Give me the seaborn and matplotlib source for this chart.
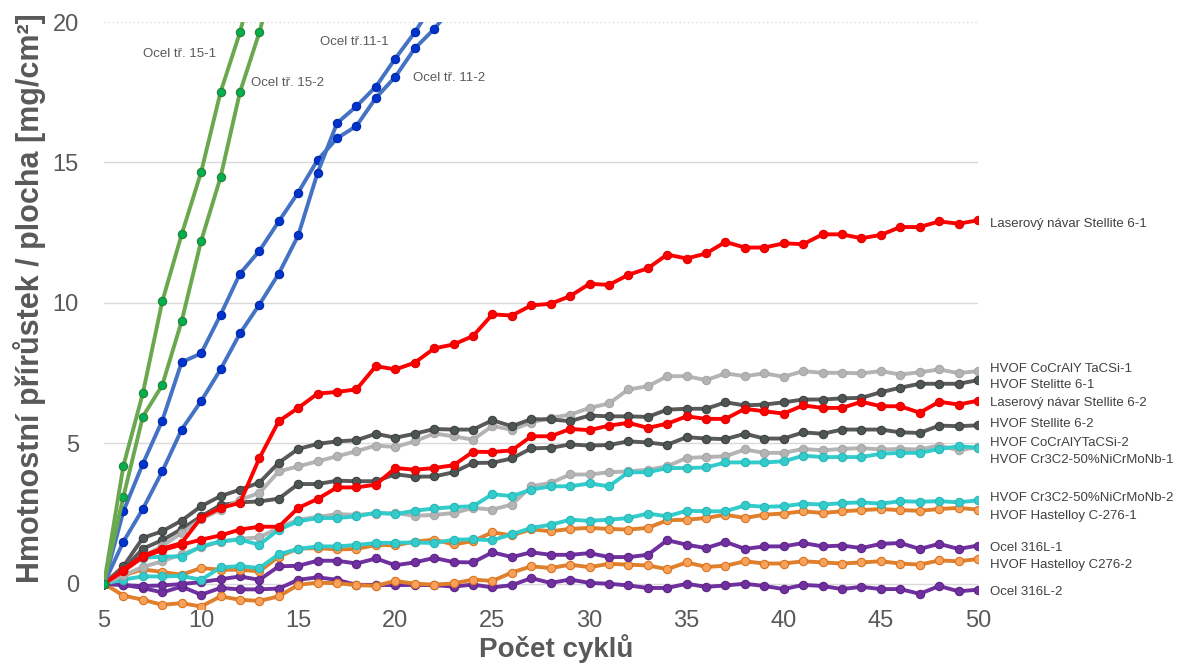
import matplotlib
matplotlib.use("Agg")
import matplotlib.pyplot as plt
import seaborn as sns
import pandas as pd

# ---- data: mass gain per area [mg/cm2] after each cycle (cycles start at 5) ----
ocel15_1 = [0, 4.2, 6.78, 10.05, 12.44, 14.65, 17.5, 19.63, 22.3]
ocel15_2 = [0, 3.1, 5.95, 7.07, 9.35, 12.2, 14.47, 17.5, 19.63, 22.2]
ocel11_1 = [0, 1.5, 2.66, 4.0, 5.49, 6.5, 7.63, 8.91, 9.94, 11.04, 12.4, 14.64,
            16.4, 17.0, 17.7, 18.7, 19.63, 20.7]
ocel11_2 = [0, 2.58, 4.27, 5.81, 7.89, 8.2, 9.57, 11.04, 11.85, 12.9, 13.93, 15.09,
            15.86, 16.3, 17.3, 18.05, 19.06, 19.75, 20.6]

laser_61 = [0, 0.5, 1.0, 1.25, 1.45, 2.35, 2.7, 2.88, 4.47, 5.79,
            6.26, 6.77, 6.83, 6.92, 7.75, 7.63, 7.87, 8.38, 8.52, 8.82,
            9.59, 9.55, 9.91, 9.97, 10.24, 10.68, 10.64, 11.0, 11.23, 11.72,
            11.58, 11.76, 12.17, 11.97, 11.97, 12.12, 12.09, 12.44, 12.44, 12.3,
            12.42, 12.7, 12.7, 12.9, 12.82, 12.94]
laser_62 = [0, 0.45, 0.95, 1.2, 1.39, 1.57, 1.72, 1.93, 2.03, 2.03,
            2.7, 3.02, 3.43, 3.43, 3.53, 4.12, 4.06, 4.12, 4.22, 4.7,
            4.69, 4.75, 5.25, 5.25, 5.51, 5.47, 5.63, 5.73, 5.55, 5.7,
            5.96, 5.87, 5.87, 6.23, 6.14, 6.06, 6.35, 6.26, 6.26, 6.48,
            6.32, 6.32, 6.09, 6.48, 6.38, 6.52]
stellite_61 = [0, 0.62, 1.63, 1.87, 2.25, 2.76, 3.12, 3.35, 3.6, 4.31,
               4.8, 4.98, 5.07, 5.11, 5.34, 5.2, 5.34, 5.51, 5.49, 5.49,
               5.82, 5.61, 5.86, 5.85, 5.79, 5.99, 5.96, 5.96, 5.94, 6.2,
               6.23, 6.23, 6.46, 6.35, 6.38, 6.46, 6.56, 6.56, 6.6, 6.62,
               6.82, 6.98, 7.12, 7.12, 7.12, 7.25]
stellite_62 = [0, 0.5, 1.25, 1.55, 1.95, 2.4, 2.8, 2.9, 2.93, 3.03,
               3.55, 3.55, 3.67, 3.65, 3.65, 3.9, 3.81, 3.82, 3.97, 4.3,
               4.31, 4.46, 4.82, 4.84, 4.96, 4.92, 4.94, 5.07, 5.03, 4.95,
               5.22, 5.17, 5.15, 5.34, 5.17, 5.17, 5.39, 5.34, 5.49, 5.49,
               5.49, 5.39, 5.37, 5.63, 5.61, 5.64]
cocraly_1 = [0, 0.45, 0.95, 1.35, 1.8, 2.3, 2.64, 2.99, 3.23, 4.0,
             4.18, 4.36, 4.54, 4.72, 4.92, 4.87, 5.07, 5.35, 5.25, 5.13,
             5.62, 5.48, 5.74, 5.91, 6.02, 6.26, 6.42, 6.92, 7.03, 7.39,
             7.39, 7.25, 7.49, 7.39, 7.49, 7.37, 7.57, 7.51, 7.51, 7.49,
             7.57, 7.45, 7.53, 7.63, 7.5, 7.57]
cocraly_2 = [0, 0.3, 0.6, 0.8, 1.05, 1.3, 1.5, 1.6, 1.65, 2.0,
             2.28, 2.38, 2.48, 2.45, 2.5, 2.52, 2.42, 2.45, 2.52, 2.7,
             2.64, 2.82, 3.47, 3.59, 3.89, 3.89, 3.97, 4.0, 4.06, 4.18,
             4.48, 4.51, 4.54, 4.78, 4.66, 4.66, 4.8, 4.75, 4.8, 4.83,
             4.78, 4.8, 4.78, 4.92, 4.75, 4.86]
cr3c2_1 = [0, 0.5, 0.92, 0.97, 0.97, 1.33, 1.51, 1.57, 1.39, 1.93,
           2.22, 2.34, 2.34, 2.4, 2.53, 2.48, 2.6, 2.68, 2.73, 2.76,
           3.19, 3.12, 3.35, 3.47, 3.47, 3.57, 3.47, 3.97, 3.97, 4.12,
           4.12, 4.14, 4.32, 4.32, 4.32, 4.36, 4.56, 4.51, 4.51, 4.51,
           4.63, 4.66, 4.66, 4.8, 4.89, 4.85]
cr3c2_2 = [0, 0.15, 0.26, 0.26, 0.28, 0.14, 0.58, 0.63, 0.56, 1.05,
           1.24, 1.33, 1.33, 1.38, 1.45, 1.46, 1.47, 1.45, 1.57, 1.58,
           1.55, 1.76, 1.99, 2.1, 2.28, 2.24, 2.28, 2.34, 2.5, 2.4,
           2.6, 2.58, 2.58, 2.79, 2.74, 2.76, 2.85, 2.82, 2.87, 2.9,
           2.85, 2.94, 2.92, 2.94, 2.9, 2.97]
hastelloy_1 = [0, 0.3, 0.51, 0.42, 0.32, 0.56, 0.5, 0.5, 0.44, 0.97,
               1.25, 1.27, 1.22, 1.24, 1.38, 1.37, 1.5, 1.57, 1.4, 1.52,
               1.83, 1.72, 1.94, 1.87, 1.95, 1.99, 1.95, 1.93, 1.99, 2.26,
               2.28, 2.34, 2.46, 2.34, 2.46, 2.5, 2.58, 2.52, 2.58, 2.62,
               2.66, 2.62, 2.6, 2.66, 2.7, 2.64]
hastelloy_2 = [0, -0.42, -0.57, -0.75, -0.69, -0.81, -0.45, -0.57, -0.61, -0.45,
               -0.04, 0.04, 0.02, -0.05, -0.07, 0.1, 0.0, -0.03, 0.01, 0.15,
               0.1, 0.4, 0.62, 0.56, 0.68, 0.59, 0.71, 0.68, 0.65, 0.52,
               0.76, 0.6, 0.64, 0.8, 0.72, 0.72, 0.8, 0.76, 0.72, 0.76,
               0.8, 0.72, 0.68, 0.83, 0.8, 0.88]
ocel316_1 = [0, -0.05, -0.08, -0.06, -0.01, 0.06, 0.16, 0.26, 0.14, 0.62,
             0.64, 0.82, 0.82, 0.72, 0.9, 0.66, 0.76, 0.92, 0.77, 0.76,
             1.12, 0.95, 1.12, 1.03, 1.03, 1.09, 0.95, 0.95, 1.03, 1.55,
             1.39, 1.27, 1.49, 1.24, 1.33, 1.33, 1.45, 1.33, 1.36, 1.27,
             1.42, 1.45, 1.24, 1.42, 1.24, 1.36]
ocel316_2 = [0, -0.04, -0.15, -0.31, -0.1, -0.39, -0.15, -0.2, -0.2, -0.17,
             0.14, 0.23, 0.14, -0.04, -0.04, -0.05, -0.04, -0.05, -0.1, -0.03,
             -0.13, -0.05, 0.2, 0.03, 0.15, 0.03, 0.0, -0.06, -0.15, -0.15,
             0.0, -0.11, -0.06, 0.0, -0.08, -0.19, -0.04, -0.08, -0.19, -0.11,
             -0.19, -0.19, -0.36, -0.08, -0.27, -0.21]

x_ticks = [5, 10, 15, 20, 25, 30, 35, 40, 45, 50]
y_ticks = [0, 5, 10, 15, 20]

# series: values, line colour, marker face, marker edge, end label, label height
series = [
    (ocel316_2, "#7030A0", "#7030A0", "#5B2585", "Ocel 316L-2", -0.31),
    (hastelloy_2, "#E07F2C", "#F8A15A", "#D9731E", "HVOF Hastelloy C276-2", 0.68),
    (ocel316_1, "#7030A0", "#7030A0", "#5B2585", "Ocel 316L-1", 1.29),
    (hastelloy_1, "#E07F2C", "#F8A15A", "#D9731E", "HVOF Hastelloy C-276-1", 2.43),
    (cr3c2_2, "#33CCCC", "#33CCCC", "#2BB5B5", "HVOF Cr3C2-50%NiCrMoNb-2", 3.04),
    (cocraly_2, "#B4B4B4", "#B4B4B4", "#A6A6A6", "HVOF CoCrAlYTaCSi-2", 5.00),
    (stellite_62, "#595959", "#4D5656", "#404040", "HVOF Stellite 6-2", 5.68),
    (cocraly_1, "#B4B4B4", "#B4B4B4", "#A6A6A6", "HVOF CoCrAlY TaCSi-1", 7.64),
    (stellite_61, "#595959", "#4D5656", "#404040", "HVOF Stelitte 6-1", 7.07),
    (cr3c2_1, "#33CCCC", "#33CCCC", "#2BB5B5", "HVOF Cr3C2-50%NiCrMoNb-1", 4.39),
    (laser_62, "#FF0000", "#FF0000", "#E00000", "Laserový návar Stellite 6-2", 6.42),
    (laser_61, "#FF0000", "#FF0000", "#E00000", "Laserový návar Stellite 6-1", 12.81),
    (ocel11_2, "#4472C4", "#0033CC", "#0029A8", None, None),
    (ocel11_1, "#4472C4", "#0033CC", "#0029A8", None, None),
    (ocel15_2, "#6AA84F", "#00B050", "#2E7D32", None, None),
    (ocel15_1, "#6AA84F", "#00B050", "#2E7D32", None, None),
]

steel_labels = [
    ("Ocel tř. 15-1", 7.0, 18.87),
    ("Ocel tř. 15-2", 12.57, 17.83),
    ("Ocel tř.11-1", 16.12, 19.29),
    ("Ocel tř. 11-2", 20.91, 18.01),
]

sns.set_style("white")
plt.rcParams["font.family"] = ["Liberation Sans", "DejaVu Sans"]
title_font = ["Liberation Sans Narrow", "Liberation Sans", "DejaVu Sans"]

fig = plt.figure(figsize=(11.83, 6.63), dpi=100)
ax = fig.add_axes([0.0879, 0.0814, 0.7388, 0.8854])

for vals, lc, mfc, mec, label, ly in series:
    df = pd.DataFrame({"cyklus": list(range(5, 5 + len(vals))), "hodnota": vals})
    sns.lineplot(data=df, x="cyklus", y="hodnota", ax=ax, color=lc, linewidth=2.8,
                 marker="o", markersize=6, markerfacecolor=mfc, markeredgecolor=mec,
                 markeredgewidth=0.8, legend=False, zorder=3)
    if label is not None:
        ax.text(50.6, ly, label, fontsize=9.5, color="#404040",
                va="center", ha="left", clip_on=False)

for text, x, y in steel_labels:
    ax.text(x, y, text, fontsize=9.5, color="#595959", va="center", ha="left")

ax.set_xlim(5, 50)
ax.set_ylim(-0.9, 20)
ax.set_xticks(x_ticks)
ax.set_yticks(y_ticks)
ax.tick_params(axis="both", length=0, labelsize=17, labelcolor="#595959")
ax.tick_params(axis="y", pad=18)
ax.tick_params(axis="x", pad=1)

for v in y_ticks[:-1]:
    ax.axhline(v, color="#D9D9D9", linewidth=1.0, zorder=1)
ax.axhline(20, color="#D9D9D9", linewidth=1.0, linestyle=(0, (1, 2)), zorder=1)

for sp in ax.spines.values():
    sp.set_visible(False)

ax.set_xlabel("")
ax.set_ylabel("")
fig.text(30 / 1183, 1 - 298 / 663, "Hmotnostní přírůstek / plocha [mg/cm²]",
         rotation=90, fontsize=22, fontweight="bold", color="#595959",
         family=title_font, ha="center", va="center")
fig.text(556 / 1183, 1 - 657 / 663, "Počet cyklů", fontsize=20, fontweight="bold",
         color="#595959", family=title_font, ha="center", va="baseline")

fig.savefig("out.png", dpi=100)
